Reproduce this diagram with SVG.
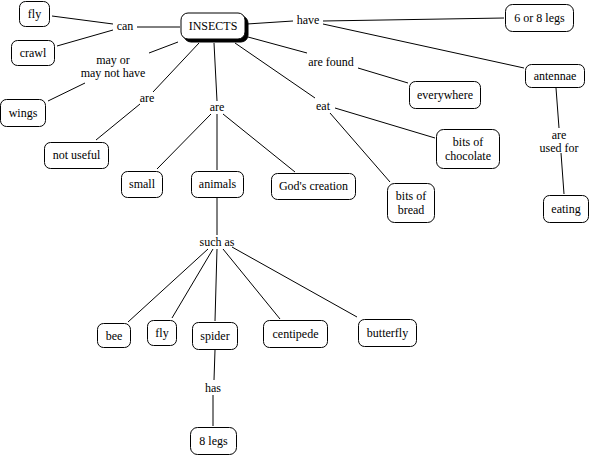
<svg xmlns="http://www.w3.org/2000/svg" width="591" height="457" viewBox="0 0 591 457">
<style>
.n rect{fill:#fff;stroke:#000;stroke-width:1}
text{font-family:"Liberation Serif","Times New Roman",serif;font-size:12px;fill:#000;text-anchor:middle}
#connectors line{stroke:#000;stroke-width:1}
</style>
<rect width="591" height="457" fill="#fff"/>
<g id="connectors">
<line x1="52" y1="16" x2="113" y2="24"/>
<line x1="57" y1="46" x2="113" y2="30"/>
<line x1="137" y1="27" x2="180" y2="27"/>
<line x1="178" y1="42" x2="149" y2="53"/>
<line x1="85" y1="83" x2="48" y2="101"/>
<line x1="199" y1="43" x2="153" y2="92"/>
<line x1="140" y1="104" x2="96" y2="140"/>
<line x1="214" y1="43" x2="217" y2="101"/>
<line x1="211" y1="114" x2="157" y2="169"/>
<line x1="217" y1="114" x2="217" y2="170"/>
<line x1="223" y1="114" x2="295" y2="172"/>
<line x1="248" y1="37" x2="307" y2="53"/>
<line x1="358" y1="68" x2="408" y2="83"/>
<line x1="235" y1="43" x2="315" y2="98"/>
<line x1="335" y1="108" x2="435" y2="138"/>
<line x1="330" y1="113" x2="390" y2="182"/>
<line x1="247" y1="24" x2="293" y2="21"/>
<line x1="323" y1="21" x2="504" y2="18"/>
<line x1="323" y1="24" x2="524" y2="68"/>
<line x1="556" y1="88" x2="559" y2="128"/>
<line x1="561" y1="153" x2="564" y2="194"/>
<line x1="217" y1="198" x2="217" y2="235"/>
<line x1="208" y1="249" x2="128" y2="322"/>
<line x1="213" y1="249" x2="172" y2="318"/>
<line x1="217" y1="249" x2="215" y2="321"/>
<line x1="223" y1="249" x2="280" y2="319"/>
<line x1="232" y1="247" x2="357" y2="317"/>
<line x1="215" y1="350" x2="214" y2="380"/>
<line x1="213" y1="395" x2="213" y2="426"/>
</g>
<g id="labels">
<text x="125" y="30">can</text>
<text x="308" y="24">have</text>
<text x="113" y="64">may or</text>
<text x="113" y="77">may not have</text>
<text x="147" y="102">are</text>
<text x="217" y="111">are</text>
<text x="331" y="66">are found</text>
<text x="323" y="110">eat</text>
<text x="559" y="139">are</text>
<text x="559" y="152">used for</text>
<text x="217" y="246">such as</text>
<text x="213" y="392">has</text>
</g>
<g id="INSECTS" class="n">
<rect x="184" y="16" width="64" height="26" rx="7" fill="#000" style="fill:#000"/>
<rect x="181" y="13" width="64" height="26" rx="7"/>
<text x="213" y="30">INSECTS</text>
</g>
<g id="fly1" class="n"><rect x="19.5" y="1.5" width="30" height="25" rx="6"/><text x="34.5" y="18">fly</text></g>
<g id="crawl" class="n"><rect x="11.5" y="40.5" width="43" height="25" rx="6"/><text x="33" y="57">crawl</text></g>
<g id="wings" class="n"><rect x="0.5" y="99.5" width="45" height="27" rx="6"/><text x="23" y="117">wings</text></g>
<g id="notuseful" class="n"><rect x="44.5" y="142.5" width="64" height="26" rx="6"/><text x="76.5" y="159">not useful</text></g>
<g id="small" class="n"><rect x="121.5" y="171.5" width="41" height="26" rx="6"/><text x="142" y="188">small</text></g>
<g id="animals" class="n"><rect x="191.5" y="171.5" width="52" height="26" rx="6"/><text x="217.5" y="188">animals</text></g>
<g id="godscreation" class="n"><rect x="271.5" y="173.5" width="84" height="26" rx="6"/><text x="313.5" y="190">God's creation</text></g>
<g id="sixor8legs" class="n"><rect x="505.5" y="4.5" width="68" height="27" rx="7"/><text x="539.5" y="22">6 or 8 legs</text></g>
<g id="antennae" class="n"><rect x="525.5" y="64.5" width="59" height="23" rx="6"/><text x="555" y="80">antennae</text></g>
<g id="everywhere" class="n"><rect x="409.5" y="81.5" width="71" height="27" rx="6"/><text x="445" y="99">everywhere</text></g>
<g id="chocolate" class="n"><rect x="436.5" y="129.5" width="63" height="39" rx="7"/><text x="468" y="146">bits of</text><text x="468" y="160">chocolate</text></g>
<g id="bread" class="n"><rect x="387.5" y="183.5" width="47" height="39" rx="7"/><text x="411" y="200">bits of</text><text x="411" y="214">bread</text></g>
<g id="eating" class="n"><rect x="543.5" y="195.5" width="45" height="27" rx="6"/><text x="566" y="213">eating</text></g>
<g id="bee" class="n"><rect x="97.5" y="323.5" width="33" height="24" rx="6"/><text x="114" y="340">bee</text></g>
<g id="fly2" class="n"><rect x="147.5" y="320.5" width="29" height="25" rx="6"/><text x="162" y="337">fly</text></g>
<g id="spider" class="n"><rect x="192.5" y="322.5" width="45" height="27" rx="6"/><text x="215" y="340">spider</text></g>
<g id="centipede" class="n"><rect x="263.5" y="320.5" width="64" height="27" rx="6"/><text x="295.5" y="338">centipede</text></g>
<g id="butterfly" class="n"><rect x="358.5" y="319.5" width="58" height="27" rx="6"/><text x="387.5" y="337">butterfly</text></g>
<g id="eightlegs" class="n"><rect x="190.5" y="427.5" width="46" height="27" rx="7"/><text x="213.5" y="445">8 legs</text></g>
</svg>
